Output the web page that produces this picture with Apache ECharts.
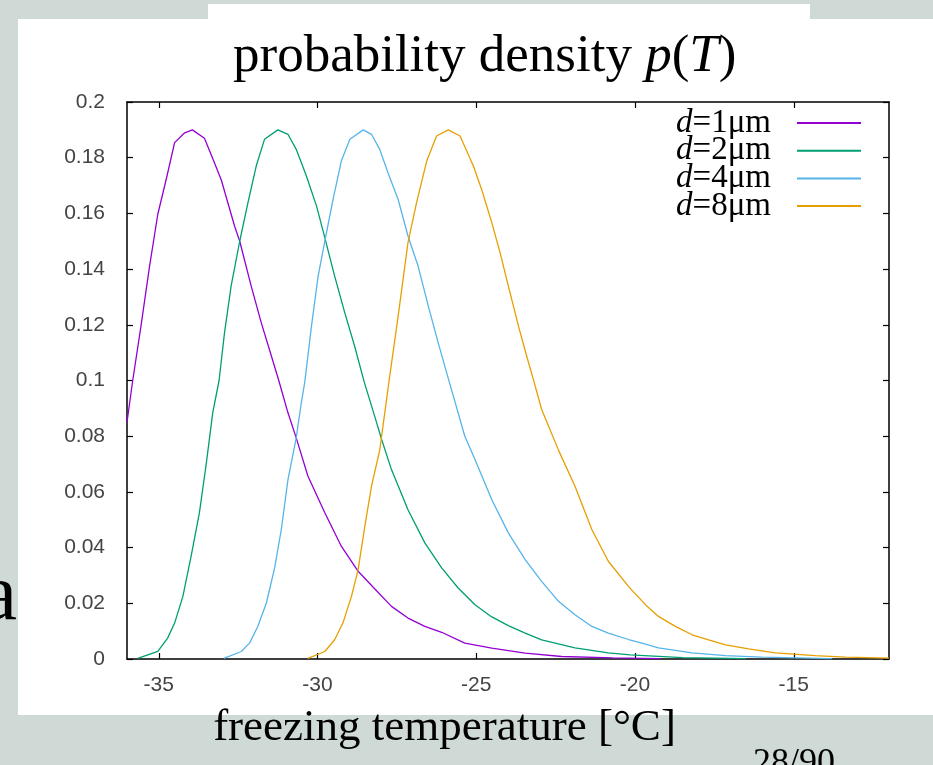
<!DOCTYPE html>
<html><head><meta charset="utf-8">
<script src="https://cdn.jsdelivr.net/npm/echarts@6/dist/echarts.min.js"></script>
<style>html,body{margin:0;padding:0;background:#cfd9d6;}#c{width:933px;height:765px;}</style>
</head><body><div id="c"></div>
<script>
// ---- data ----
const seriesNames = ['d=1μm', 'd=2μm', 'd=4μm', 'd=8μm'];
const xTicks = [-35, -30, -25, -20, -15];

const d1 = [[-36.0,0.085],[-35.82,0.100],[-35.56,0.1195],[-35.29,0.141],[-35.03,0.1597],[-34.77,0.172],[-34.5,0.1854],[-34.2,0.1888],[-33.94,0.190],[-33.56,0.187],[-33.24,0.178],[-33.03,0.172],[-32.61,0.1554],[-32.45,0.150],[-32.09,0.134],[-31.77,0.1207],[-31.45,0.1087],[-31.22,0.100],[-30.93,0.0884],[-30.67,0.0794],[-30.30,0.0656],[-29.77,0.0525],[-29.25,0.0405],[-28.72,0.0315],[-28.2,0.0252],[-27.67,0.0189],[-27.15,0.0147],[-26.62,0.0117],[-26.09,0.0096],[-25.36,0.0057],[-24.51,0.0039],[-23.46,0.0021],[-22.31,0.0009],[-20.7,0.0004],[-19.2,0.0001]];

const d2 = [[-35.66,0.0002],[-35.03,0.0027],[-34.72,0.0075],[-34.5,0.0129],[-34.24,0.0225],[-33.98,0.0369],[-33.72,0.0525],[-33.5,0.0704],[-33.3,0.0884],[-33.1,0.100],[-32.93,0.117],[-32.72,0.134],[-32.45,0.150],[-32.19,0.1639],[-31.93,0.177],[-31.67,0.1866],[-31.25,0.190],[-30.93,0.1884],[-30.67,0.183],[-30.35,0.1734],[-30.03,0.1626],[-29.77,0.1513],[-29.46,0.1375],[-29.14,0.1243],[-28.83,0.1123],[-28.53,0.0995],[-28.2,0.0872],[-27.98,0.0788],[-27.67,0.068],[-27.15,0.0536],[-26.62,0.0417],[-26.09,0.0327],[-25.57,0.0255],[-25.04,0.0195],[-24.51,0.0151],[-23.99,0.012],[-23.46,0.0093],[-22.94,0.0069],[-21.89,0.004],[-20.84,0.0022],[-20.15,0.0015],[-18.5,0.0005],[-16.5,0.0001]];

const d4 = [[-32.95,0.0002],[-32.4,0.0027],[-32.14,0.0057],[-31.88,0.0117],[-31.61,0.0201],[-31.35,0.0327],[-31.14,0.0465],[-30.93,0.0644],[-30.67,0.0794],[-30.51,0.092],[-30.40,0.0995],[-30.19,0.1195],[-29.98,0.1375],[-29.77,0.150],[-29.51,0.165],[-29.25,0.1788],[-28.98,0.1866],[-28.56,0.190],[-28.30,0.1884],[-28.04,0.183],[-27.78,0.1746],[-27.46,0.165],[-27.15,0.1519],[-26.83,0.141],[-26.51,0.1267],[-26.2,0.1136],[-25.85,0.0995],[-25.36,0.080],[-25.04,0.0716],[-24.51,0.0572],[-23.99,0.0453],[-23.46,0.0357],[-22.94,0.0279],[-22.41,0.0207],[-21.89,0.0159],[-21.36,0.0117],[-20.84,0.0093],[-20.2,0.007],[-19.78,0.0057],[-19.26,0.004],[-18.2,0.0022],[-17.15,0.0012],[-16.0,0.0007],[-13.8,0.0001]];

const d8 = [[-30.3,0.0002],[-29.77,0.0027],[-29.46,0.0069],[-29.2,0.0129],[-28.93,0.0225],[-28.72,0.0321],[-28.51,0.0476],[-28.3,0.062],[-28.04,0.075],[-27.75,0.0995],[-27.46,0.1231],[-27.15,0.1495],[-26.88,0.1639],[-26.56,0.1788],[-26.25,0.1878],[-25.88,0.190],[-25.51,0.1878],[-25.09,0.177],[-24.83,0.1686],[-24.51,0.1567],[-24.25,0.1459],[-23.99,0.134],[-23.67,0.1195],[-23.41,0.1087],[-23.18,0.0995],[-22.94,0.0896],[-22.41,0.075],[-21.89,0.062],[-21.36,0.0465],[-20.84,0.0351],[-20.2,0.026],[-19.62,0.0189],[-19.26,0.0153],[-18.73,0.0117],[-18.2,0.0087],[-17.68,0.0069],[-17.15,0.0051],[-16.42,0.0036],[-15.58,0.0022],[-14.32,0.0012],[-13.37,0.0007],[-12.0,0.0003]];

const seriesData = [d1, d2, d4, d8];
const colors = ['#9400d3', '#009e73', '#56b4e9', '#e69f00'];

// ---- chart ----
const chart = echarts.init(document.getElementById('c'), null, {renderer: 'canvas'});
const serif = 'Liberation Serif';
const sans = 'Liberation Sans';
const tickStyle = {color: '#000', width: 1.2};
const lineAx = {show: true, onZero: false, lineStyle: {color: '#000', width: 1.5}};
const LF = 33;

chart.setOption({
  animation: false,
  backgroundColor: '#cfd9d6',
  title: {
    text: '{n|probability density }{i|p}{n|(}{i|T}{n|)}',
    left: 228, top: 26,
    textStyle: {
      fontWeight: 'normal',
      rich: {
        n: {fontFamily: serif, fontSize: 53, fontWeight: 'normal', color: '#000'},
        i: {fontFamily: serif, fontSize: 53, fontWeight: 'normal', fontStyle: 'italic', color: '#000'}
      }
    }
  },
  legend: {
    orient: 'vertical', right: 67, top: 101.5, align: 'right',
    icon: 'rect', itemWidth: 64, itemHeight: 2, itemGap: 27.7 - LF,
    data: seriesNames,
    formatter: n => '{i|d}{n|' + n.slice(1) + '}',
    textStyle: {
      fontFamily: serif, fontSize: LF, color: '#000', padding: [0, 21, 0, 0],
      rich: {
        i: {fontFamily: serif, fontSize: LF, fontStyle: 'italic', color: '#000'},
        n: {fontFamily: serif, fontSize: LF, color: '#000'}
      }
    }
  },
  grid: {left: 127, right: 44, top: 102, bottom: 106, containLabel: false},
  xAxis: [{
    type: 'value', min: -36, max: -12, position: 'bottom',
    axisLine: lineAx,
    axisTick: {show: true, inside: true, length: 6, customValues: xTicks, lineStyle: tickStyle},
    axisLabel: {customValues: xTicks, margin: 16, fontFamily: sans, fontSize: 21, color: '#444'},
    splitLine: {show: false},
    name: 'freezing temperature [°C]', nameLocation: 'middle', nameGap: 47,
    nameTextStyle: {fontFamily: serif, fontSize: 45, color: '#000', padding: [0, 127, 0, 0]}
  }, {
    type: 'value', min: -36, max: -12, position: 'top',
    axisLine: lineAx,
    axisTick: {show: true, inside: true, length: 6, customValues: xTicks, lineStyle: tickStyle},
    axisLabel: {show: false}, splitLine: {show: false}
  }],
  yAxis: [{
    type: 'value', min: 0, max: 0.2, interval: 0.02, position: 'left',
    axisLine: lineAx,
    axisTick: {show: true, inside: true, length: 6, lineStyle: tickStyle},
    axisLabel: {margin: 22, fontFamily: sans, fontSize: 21, color: '#444',
      formatter: v => String(parseFloat(v.toFixed(2)))},
    splitLine: {show: false}
  }, {
    type: 'value', min: 0, max: 0.2, interval: 0.02, position: 'right',
    axisLine: lineAx,
    axisTick: {show: true, inside: true, length: 6, lineStyle: tickStyle},
    axisLabel: {show: false}, splitLine: {show: false}
  }],
  graphic: [
    {type: 'text', z: -30, style: {text: 'a', x: 17, y: 558, align: 'right', fontFamily: serif, fontSize: 80, fill: '#000'}},
    {type: 'rect', z: -20, shape: {x: 18, y: 19, width: 915, height: 696}, style: {fill: '#fff'}},
    {type: 'rect', z: -20, shape: {x: 208, y: 4, width: 602, height: 20}, style: {fill: '#fff'}},
    {type: 'text', z: 10, style: {text: '28/90', x: 753, y: 746, fontFamily: serif, fontSize: 36, fill: '#000'}}
  ],
  series: seriesData.map((d, i) => ({
    name: seriesNames[i], type: 'line', data: d,
    showSymbol: false, symbol: 'none', clip: true,
    lineStyle: {width: 1.3, color: colors[i]},
    itemStyle: {color: colors[i]}
  }))
});
</script></body></html>
